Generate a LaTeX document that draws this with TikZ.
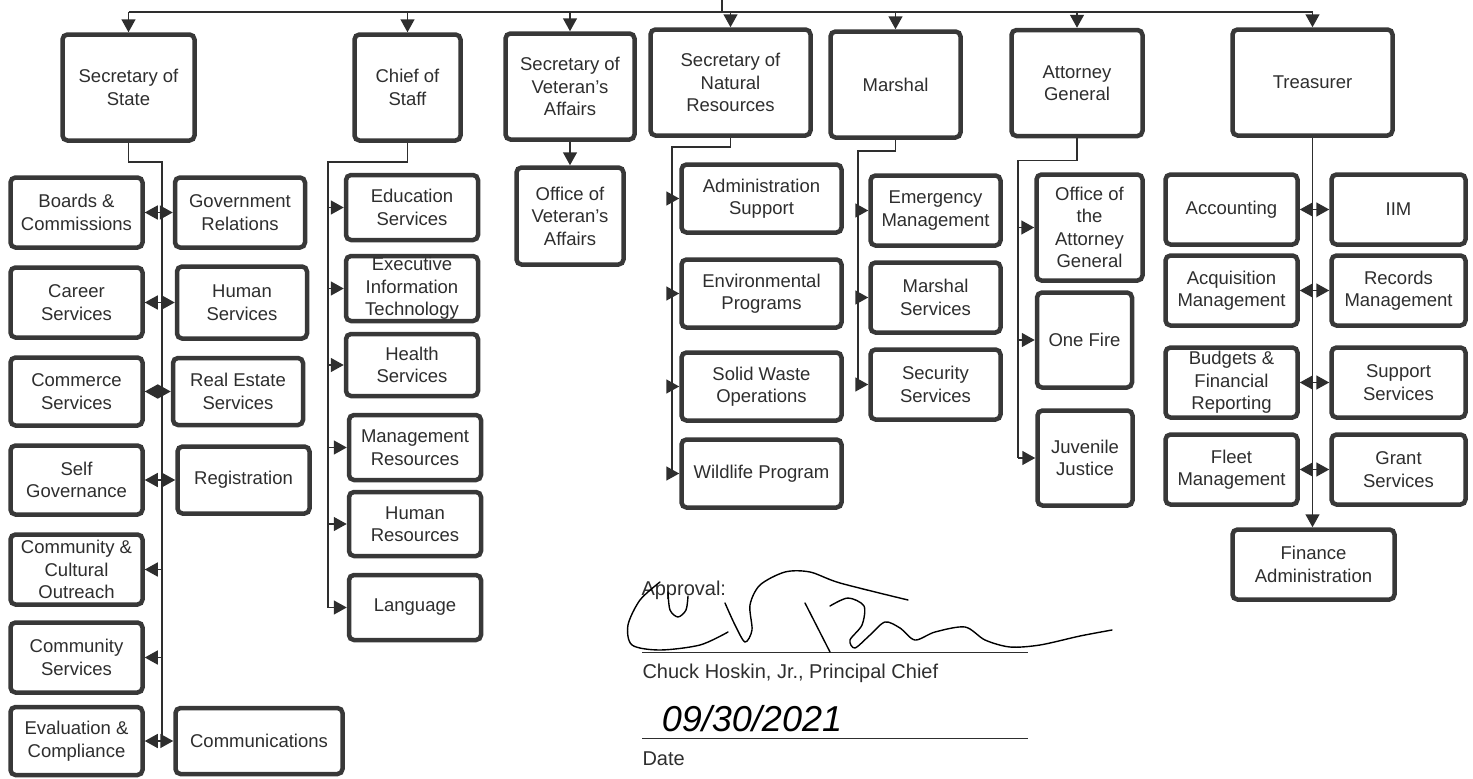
\documentclass[tikz,border=0pt]{standalone}
\usepackage{fontspec}
\setmainfont{Liberation Sans}
\usetikzlibrary{arrows.meta}
\definecolor{boxgray}{HTML}{383838}
\definecolor{inkgray}{HTML}{2E2E2E}
\newcommand{\unitfont}{\fontsize{18.5}{22.5}\selectfont}
\newcommand{\signfont}{\fontsize{20}{22}\selectfont}
\newcommand{\handfont}{\itshape\fontsize{36}{36}\selectfont}
\tikzset{
    unit/.style={draw=boxgray,line width=4.5pt,rounded corners=5pt,fill=white,align=center,inner sep=1pt,font=\unitfont},
    top/.style={unit,minimum height=106pt},
    link/.style={draw=inkgray,line width=1.5pt},
    arr/.style={link,-{Triangle[length=13pt,width=14pt]}},
    darr/.style={link,{Triangle[length=13pt,width=14pt]}-{Triangle[length=13pt,width=14pt]}},
    sig/.style={draw=black,line width=1.4pt,line cap=round,line join=round}
}

\begin{document}
\begin{tikzpicture}[x=1pt,y=-1pt,every node/.style={text=inkgray}]
    \useasboundingbox (0,0) rectangle (1473,779);
    %
    \node[top,minimum width=132pt] (ss) at (128.5,87.5) {Secretary of\\State};
    \node[top,minimum width=106pt] (cs) at (407.5,87.5) {Chief of\\Staff};
    \node[top,minimum width=129pt] (va) at (570,86.5) {Secretary of\\Veteran's\\Affairs};
    \node[top,minimum width=160pt] (nr) at (730.5,82.5) {Secretary of\\Natural\\Resources};
    \node[top,minimum width=130pt] (ma) at (895.5,84.5) {Marshal};
    \node[top,minimum width=131pt] (ag) at (1077,83) {Attorney\\General};
    \node[top,minimum width=160pt] (tr) at (1312.5,82.5) {Treasurer};
    %
    \coordinate (cn) at (722,0);
    \coordinate (bus) at (722,12);
    \draw[link] (cn) -- (bus);
    \draw[link] (ss.north |- bus) -- (tr.north |- bus);
    \foreach \n in {ss,cs,va,nr,ma,ag,tr}
        \draw[arr] (\n.north |- bus) -- (\n.north);

    % secretary of state
    \begin{scope}[every node/.append style={minimum width=132pt,minimum height=70pt}]
    \node[unit] (bc) at (76.5,212.5) {Boards \&\\Commissions};
    \node[unit,minimum width=130pt] (gr) at (240,212.5) {Government\\Relations};
    \node[unit] (crs) at (76.5,302.5) {Career\\Services};
    \node[unit,minimum width=130pt,minimum height=72pt] (hs) at (242,302.5) {Human\\Services};
    \node[unit,minimum height=68pt] (cms) at (76.5,391.5) {Commerce\\Services};
    \node[unit,minimum width=130pt,minimum height=67pt] (res) at (238,391.5) {Real Estate\\Services};
    \node[unit,minimum height=69pt] (sg) at (76.5,480) {Self\\Governance};
    \node[unit,minimum height=67pt] (reg) at (243.5,480) {Registration};
    \node[unit] (cco) at (76.5,569.5) {Community \&\\Cultural\\Outreach};
    \node[unit] (cys) at (76.5,657.5) {Community\\Services};
    \node[unit,minimum height=68pt] (ec) at (76.5,741) {Evaluation \&\\Compliance};
    \node[unit,minimum width=167pt,minimum height=66pt] (com) at (259,741) {Communications};
    \end{scope}
    \coordinate (ssend) at (162,741);
    \draw[link] (ss.south) -- ++(0,19) -| (ssend);
    \foreach \l/\r in {bc/gr,crs/hs,cms/res,sg/reg,ec/com}
        \draw[darr] (\l.east) -- (\r.west);
    \foreach \l in {cco,cys}
        \draw[arr] (ssend |- \l.east) -- (\l.east);

    % chief of staff
    \begin{scope}[every node/.append style={minimum width=132pt,minimum height=65pt}]
    \node[unit] (es) at (412,207.5) {Education\\Services};
    \node[unit] (eit) at (412,288.5) {Executive\\Information\\Technology};
    \node[unit,minimum height=62pt] (hls) at (412,365) {Health\\Services};
    \node[unit] (mr) at (415,447.5) {Management\\Resources};
    \node[unit,minimum height=64pt] (hr) at (415,524) {Human\\Resources};
    \node[unit] (lang) at (415,607.5) {Language};
    \end{scope}
    \coordinate (csend) at (328,607.5);
    \draw[link] (cs.south) -- ++(0,19) -| (csend);
    \foreach \c in {es,eit,hls,mr,hr,lang}
        \draw[arr] (csend |- \c.west) -- (\c.west);

    % veteran's affairs
    \node[unit,minimum width=107pt,minimum height=97pt] (ova) at (570,216) {Office of\\Veteran's\\Affairs};
    \draw[arr] (va.south) -- (ova.north);

    % natural resources
    \begin{scope}[every node/.append style={minimum width=160pt,minimum height=68pt}]
    \node[unit] (as) at (761.5,198.5) {Administration\\Support};
    \node[unit] (ep) at (761.5,293.5) {Environmental\\Programs};
    \node[unit] (swo) at (761.5,386.5) {Solid Waste\\Operations};
    \node[unit] (wp) at (761.5,473.5) {Wildlife Program};
    \end{scope}
    \coordinate (nrend) at (672,473.5);
    \draw[link] (nr.south) -- ++(0,9) -| (nrend);
    \foreach \c in {as,ep,swo,wp}
        \draw[arr] (nrend |- \c.west) -- (\c.west);

    % marshal
    \begin{scope}[every node/.append style={minimum width=130pt,minimum height=70pt}]
    \node[unit] (em) at (935.5,210.5) {Emergency\\Management};
    \node[unit] (msv) at (935.5,297.5) {Marshal\\Services};
    \node[unit] (ssv) at (935.5,384.5) {Security\\Services};
    \end{scope}
    \coordinate (maend) at (858,384.5);
    \draw[link] (ma.south) -- ++(0,11) -| (maend);
    \foreach \c in {em,msv,ssv}
        \draw[arr] (maend |- \c.west) -- (\c.west);

    % attorney general
    \begin{scope}[every node/.append style={minimum width=95pt,minimum height=95pt}]
    \node[unit,minimum width=106pt,minimum height=106pt] (oag) at (1089.5,227.5) {Office of\\the\\Attorney\\General};
    \node[unit] (of) at (1084.5,340) {One Fire};
    \node[unit] (jj) at (1085,458) {Juvenile\\Justice};
    \end{scope}
    \coordinate (agend) at (1018,458);
    \draw[link] (ag.south) -- ++(0,22) -| (agend);
    \foreach \c in {oag,of,jj}
        \draw[arr] (agend |- \c.west) -- (\c.west);

    % treasurer
    \begin{scope}[every node/.append style={minimum width=132pt,minimum height=70pt}]
    \node[unit] (acc) at (1231.5,209.5) {Accounting};
    \node[unit,minimum width=134pt] (iim) at (1398.5,209.5) {IIM};
    \node[unit] (aqm) at (1231.5,290.5) {Acquisition\\Management};
    \node[unit,minimum width=134pt] (rm) at (1398.5,290.5) {Records\\Management};
    \node[unit] (bfr) at (1231.5,382.5) {Budgets \&\\Financial\\Reporting};
    \node[unit,minimum width=134pt] (sup) at (1398.5,382.5) {Support\\Services};
    \node[unit] (flm) at (1231.5,469.5) {Fleet\\Management};
    \node[unit,minimum width=134pt] (gs) at (1398.5,469.5) {Grant\\Services};
    \node[unit,minimum width=162pt] (fa) at (1313.5,564.5) {Finance\\Administration};
    \end{scope}
    \draw[arr] (tr.south) -- (tr.south |- fa.north);
    \foreach \l/\r in {acc/iim,aqm/rm,bfr/sup,flm/gs}
        \draw[darr] (\l.east) -- (\r.west);

    % approval
    \node[anchor=west,font=\signfont] (appr) at (638,590) {Approval:};
    \coordinate (sigl) at (642,652);
    \coordinate (sigr) at (1028,652);
    \draw[link,line width=1pt] (sigl) -- (sigr);
    \node[anchor=west,font=\signfont] (chief) at (639,673) {Chuck Hoskin, Jr., Principal Chief};
    \coordinate (datel) at (642,738);
    \coordinate (dater) at (1028,738);
    \draw[link,line width=1pt] (datel) -- (dater);
    \node[font=\handfont,text=black] (dateval) at (752,719) {09/30/2021};
    \node[anchor=west,font=\signfont] (datelbl) at (639,759) {Date};
    %
    \draw[sig] plot[smooth] coordinates {(660,582) (640,600) (628,625) (632,645) (660,650) (700,645) (728,632)};
    \draw[sig] plot[smooth] coordinates {(668,592) (670,610) (678,617) (686,610) (688,596)};
    \draw[sig] plot[smooth] coordinates {(725,603) (735,625) (745,642) (752,630) (750,605) (760,585) (785,572) (810,572) (840,583) (908,600)};
    \draw[sig] (805,603) -- (830,652);
    \draw[sig] plot[smooth] coordinates {(830,606) (848,598) (864,606) (862,625) (850,640) (855,648) (870,635) (885,622) (900,628) (915,640) (935,632) (965,627) (985,640) (1010,647) (1040,645) (1080,636) (1112,630)};
    %
\end{tikzpicture}
\end{document}
